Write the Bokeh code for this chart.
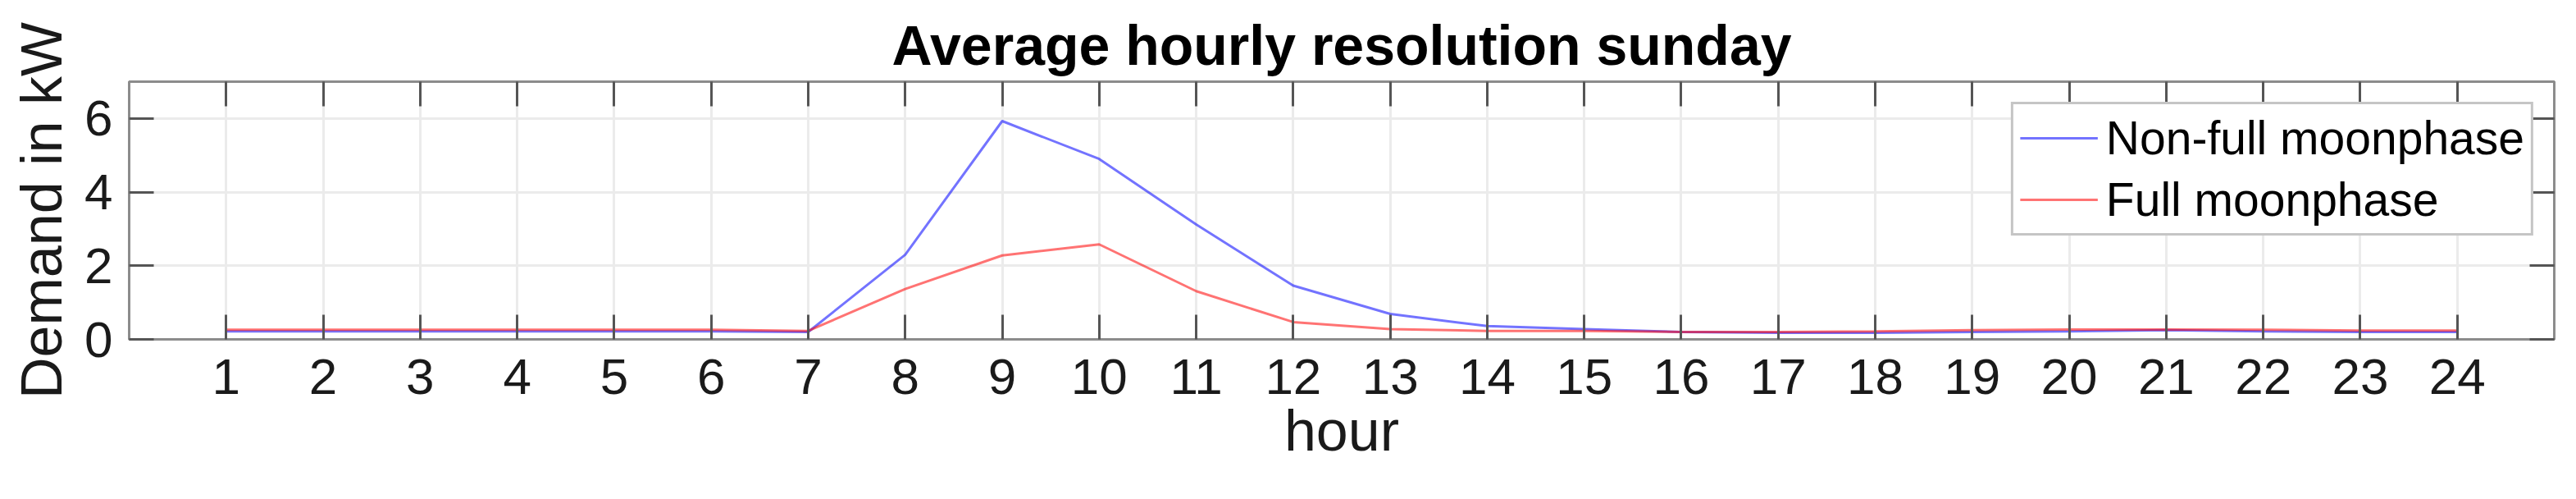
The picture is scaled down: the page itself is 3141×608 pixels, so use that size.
from bokeh.plotting import figure
from bokeh.models import LinearAxis, FixedTicker, Legend, LegendItem, ColumnDataSource
from bokeh.embed import file_html
from bokeh.resources import INLINE

hours = list(range(1, 25))
non_full = [0.22, 0.22, 0.22, 0.22, 0.22, 0.22, 0.20, 2.30, 5.93, 4.90, 3.12, 1.46,
            0.69, 0.36, 0.28, 0.20, 0.18, 0.18, 0.20, 0.22, 0.25, 0.22, 0.20, 0.20]
full = [0.26, 0.26, 0.26, 0.26, 0.26, 0.26, 0.23, 1.37, 2.28, 2.58, 1.31, 0.47,
        0.28, 0.23, 0.23, 0.20, 0.20, 0.22, 0.25, 0.27, 0.27, 0.26, 0.24, 0.24]
x_ticks = hours
y_ticks = [0, 2, 4, 6]
series_names = ["Non-full moonphase", "Full moonphase"]

FONT = "Liberation Sans"
TXT = "#1a1a1a"

p = figure(width=3141, height=608, x_range=(0, 25), y_range=(0, 7),
           output_backend="svg", toolbar_location=None,
           min_border_left=157, min_border_right=27, min_border_top=99, min_border_bottom=195,
           title="Average hourly resolution sunday")

p.title.text_font = FONT
p.title.text_font_size = "68px"
p.title.text_font_style = "bold"
p.title.text_color = "black"
p.title.align = "center"
p.title.standoff = 13

p.outline_line_color = "#8c8c8c"
p.outline_line_width = 3

src = ColumnDataSource(dict(h=hours, a=non_full, b=full))
r1 = p.line("h", "a", source=src, line_color="blue", line_alpha=0.55, line_width=3)
r2 = p.line("h", "b", source=src, line_color="red", line_alpha=0.55, line_width=3)

for ax in (p.xaxis[0], p.yaxis[0]):
    ax.major_tick_in = 30
    ax.major_tick_out = 0
    ax.minor_tick_line_color = None
    ax.major_tick_line_color = "#555555"
    ax.major_tick_line_width = 3
    ax.axis_line_color = "#8c8c8c"
    ax.axis_line_width = 3
    ax.major_label_text_font = FONT
    ax.major_label_text_font_size = "62px"
    ax.major_label_text_color = TXT
    ax.axis_label_text_font = FONT
    ax.axis_label_text_font_size = "70px"
    ax.axis_label_text_font_style = "normal"
    ax.axis_label_text_color = TXT

p.xaxis[0].ticker = FixedTicker(ticks=x_ticks)
p.yaxis[0].ticker = FixedTicker(ticks=y_ticks)
p.xaxis[0].axis_label = "hour"
p.yaxis[0].axis_label = "Demand in kW"
p.xaxis[0].major_label_standoff = 24
p.xaxis[0].axis_label_standoff = 3
p.yaxis[0].major_label_standoff = 20
p.yaxis[0].axis_label_standoff = 10

top = LinearAxis(ticker=FixedTicker(ticks=x_ticks))
right = LinearAxis(ticker=FixedTicker(ticks=y_ticks))
for ax in (top, right):
    ax.major_tick_in = 30
    ax.major_tick_out = 0
    ax.minor_tick_line_color = None
    ax.major_tick_line_color = "#555555"
    ax.major_tick_line_width = 3
    ax.axis_line_color = "#8c8c8c"
    ax.axis_line_width = 3
    ax.major_label_text_font_size = "1px"
    ax.major_label_text_color = None
    ax.major_label_standoff = 0
p.add_layout(top, "above")
p.add_layout(right, "right")

p.xgrid.ticker = FixedTicker(ticks=x_ticks)
p.ygrid.ticker = FixedTicker(ticks=y_ticks)
p.grid.grid_line_color = "#ebebeb"
p.grid.grid_line_width = 3

legend = Legend(items=[LegendItem(label=series_names[0], renderers=[r1]),
                       LegendItem(label=series_names[1], renderers=[r2])],
                location="top_right", margin=25, padding=8, spacing=9,
                glyph_width=95, glyph_height=66, label_standoff=10,
                label_text_font=FONT, label_text_font_size="57px", label_text_color="black",
                border_line_color="#8c8c8c", border_line_width=3,
                background_fill_color="white", background_fill_alpha=1.0)
p.add_layout(legend, "center")

open("out.html", "w").write(file_html(p, INLINE))
